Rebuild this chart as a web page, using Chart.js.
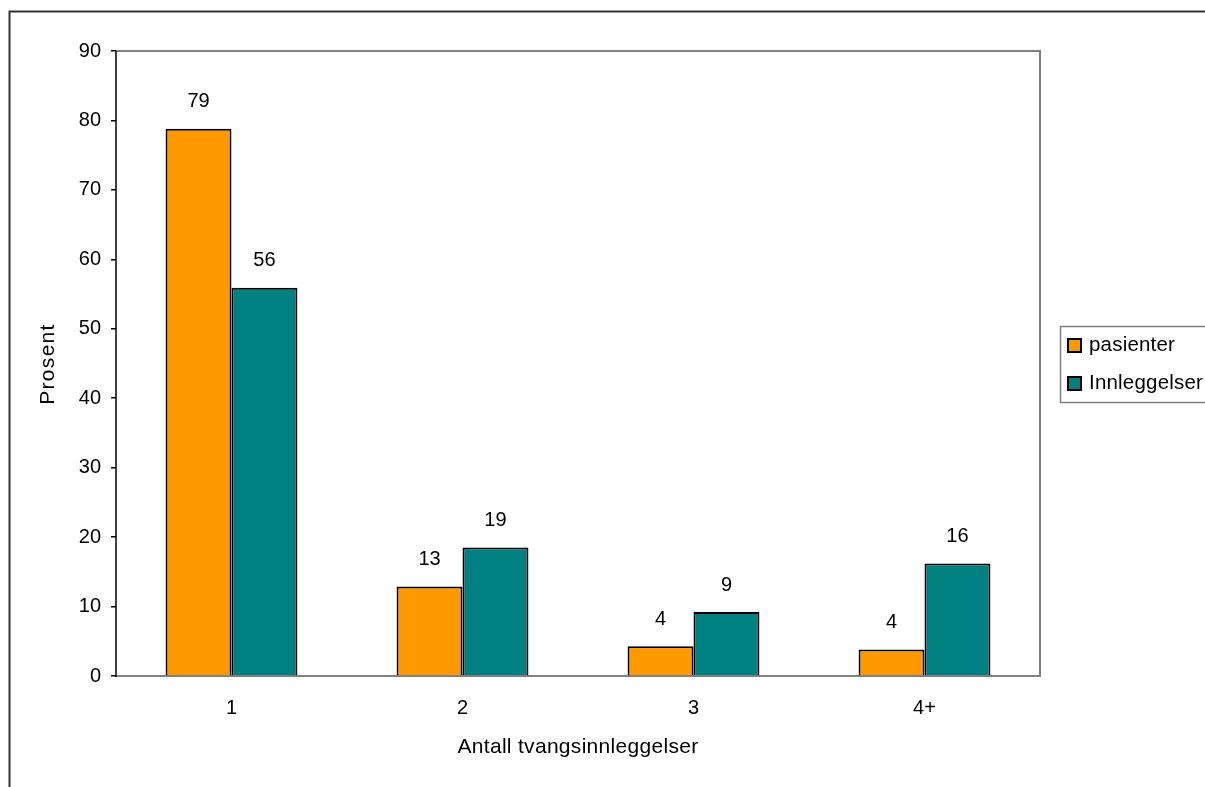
<!DOCTYPE html>
<html>
<head>
<meta charset="utf-8">
<script src="https://cdn.jsdelivr.net/npm/chart.js@4/dist/chart.umd.min.js"></script>
<style>
html,body{margin:0;padding:0;background:#fff;}
#wrap{width:1205px;height:787px;position:relative;}
</style>
</head>
<body>
<div id="wrap"><canvas id="c" width="1205" height="787"></canvas></div>
<script>
const categories = ['1', '2', '3', '4+'];
const pasienter = [78.8, 12.9, 4.3, 3.8];
const innleggelser = [55.9, 18.5, 9.2, 16.2];
const seriesNames = ['pasienter', 'Innleggelser'];
const yTicks = [0, 10, 20, 30, 40, 50, 60, 70, 80, 90];
const xTitle = 'Antall tvangsinnleggelser';
const yTitle = 'Prosent';

const FONT = 'Liberation Sans, Arial, sans-serif';
const FS = 20;

const framePlugin = {
  id: 'frame',
  beforeDraw(chart) {
    const ctx = chart.ctx;
    ctx.save();
    ctx.fillStyle = '#fff';
    ctx.fillRect(0, 0, chart.width, chart.height);
    ctx.strokeStyle = '#333';
    ctx.lineWidth = 2;
    ctx.beginPath();
    ctx.moveTo(9.5, chart.height + 5);
    ctx.lineTo(9.5, 11.5);
    ctx.lineTo(chart.width + 5, 11.5);
    ctx.stroke();
    ctx.restore();
  },
  beforeDatasetsDraw(chart) {
    const a = chart.chartArea;
    const ctx = chart.ctx;
    ctx.save();
    ctx.strokeStyle = '#808080';
    ctx.lineWidth = 2;
    ctx.beginPath();
    ctx.moveTo(a.left, a.top);
    ctx.lineTo(a.right, a.top);
    ctx.lineTo(a.right, a.bottom);
    ctx.lineTo(a.left, a.bottom);
    ctx.stroke();
    ctx.restore();
  },
  afterDatasetsDraw(chart) {
    const ctx = chart.ctx;
    const a = chart.chartArea;
    ctx.save();
    ctx.font = FS + 'px ' + FONT;
    ctx.fillStyle = '#000';
    ctx.textAlign = 'center';
    ctx.textBaseline = 'middle';
    chart.data.datasets.forEach((ds, i) => {
      const meta = chart.getDatasetMeta(i);
      meta.data.forEach((bar, j) => {
        ctx.fillText(String(Math.round(ds.data[j])), bar.x, bar.y - 27);
      });
    });
    // axis titles
    ctx.font = '21px ' + FONT;
    ctx.letterSpacing = '0.3px';
    ctx.fillText(chart.options.scales.x.title.text, (a.left + a.right) / 2, 747);
    ctx.save();
    ctx.translate(48.5, 364);
    ctx.rotate(-Math.PI / 2);
    ctx.letterSpacing = '1.3px';
    ctx.fillText(chart.options.scales.y.title.text, 0, 0);
    ctx.restore();
    // y axis line (black)
    ctx.strokeStyle = '#000';
    ctx.lineWidth = 1.5;
    ctx.beginPath();
    ctx.moveTo(a.left, a.top);
    ctx.lineTo(a.left, a.bottom + 1);
    ctx.stroke();
    // legend
    const lx = 1060, ly = 326, lw = 160, lh = 76;
    ctx.strokeStyle = '#808080';
    ctx.lineWidth = 1.5;
    ctx.strokeRect(lx + 0.5, ly + 0.5, lw, lh);
    ctx.textAlign = 'left';
    ctx.font = '20.5px ' + FONT;
    ctx.letterSpacing = '0.2px';
    chart.data.datasets.forEach((ds, i) => {
      const cy = 345.5 + i * 38;
      ctx.fillStyle = ds.backgroundColor;
      ctx.fillRect(1068, cy - 6.5, 13, 13);
      ctx.strokeStyle = '#000';
      ctx.lineWidth = 2;
      ctx.strokeRect(1068, cy - 6.5, 13, 13);
      ctx.fillStyle = '#000';
      ctx.fillText(ds.label, 1089, cy);
    });
    ctx.restore();
  }
};

new Chart(document.getElementById('c'), {
  type: 'bar',
  data: {
    labels: categories,
    datasets: [
      { label: seriesNames[0], data: pasienter, backgroundColor: '#FF9900', borderColor: '#000', borderWidth: 2, categoryPercentage: 0.571, barPercentage: 1.0 },
      { label: seriesNames[1], data: innleggelser, backgroundColor: '#008080', borderColor: '#000', borderWidth: 2, categoryPercentage: 0.571, barPercentage: 1.0 }
    ]
  },
  options: {
    responsive: false,
    animation: false,
    layout: { padding: { left: 0, top: 51, right: 165, bottom: 0 } },
    plugins: { legend: { display: false }, tooltip: { enabled: false } },
    scales: {
      x: {
        grid: { display: false, drawTicks: false },
        border: { display: false },
        ticks: { color: '#000', font: { family: FONT, size: FS }, padding: 20 },
        title: { display: false, text: xTitle },
        afterFit(s) { s.height = 111; }
      },
      y: {
        min: 0, max: 90,
        afterBuildTicks(s) { s.ticks = yTicks.map(v => ({ value: v })); },
        grid: { drawOnChartArea: false, drawTicks: true, tickLength: 5, color: '#000', lineWidth: 1.5 },
        border: { display: false },
        ticks: { color: '#000', font: { family: FONT, size: FS }, padding: 10 },
        title: { display: false, text: yTitle },
        afterFit(s) { s.width = 116; }
      }
    }
  },
  plugins: [framePlugin]
});
</script>
</body>
</html>
